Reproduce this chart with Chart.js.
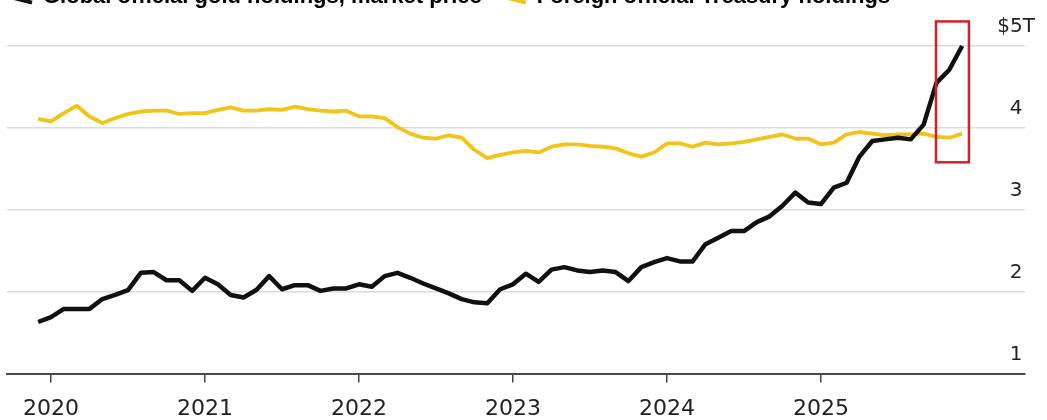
<!DOCTYPE html>
<html>
<head>
<meta charset="utf-8">
<script src="https://cdn.jsdelivr.net/npm/chart.js@4.4.1/dist/chart.umd.min.js"></script>
<style>
  html, body { margin: 0; padding: 0; background: #fff; overflow: hidden; }
  #wrap { position: relative; width: 1047px; height: 420px; overflow: hidden; }
  #box { position: absolute; left: 0; top: -23px; width: 1047px; height: 458px; }
</style>
</head>
<body>
<div id="wrap"><div id="box"><canvas id="chart"></canvas></div></div>
<script>
/* Réservas oficiais: ouro a preço de mercado x Treasuries em mãos estrangeiras (US$ tri) */
const START_MONTH = -1;            // dez/2019, contado a partir de jan/2020 = 0
const FIRST_YEAR = 2020;
const SERIES_NAMES = ["Global official gold holdings, market price", "Foreign official Treasury holdings"];
const YEAR_TICKS = [0, 12, 24, 36, 48, 60];
const Y_TICKS = [1, 2, 3, 4, 5];

const gold = [
  1.63, 1.69, 1.79, 1.79, 1.79, 1.91, 1.96, 2.02, 2.23, 2.24, 2.14, 2.14,
  2.01, 2.17, 2.09, 1.96, 1.93, 2.02, 2.19, 2.03, 2.08, 2.08, 2.01, 2.04,
  2.04, 2.09, 2.06, 2.19, 2.23, 2.17, 2.10, 2.04, 1.98, 1.91, 1.87, 1.86,
  2.03, 2.09, 2.22, 2.12, 2.27, 2.30, 2.26, 2.24, 2.26, 2.24, 2.13, 2.30,
  2.36, 2.41, 2.37, 2.37, 2.58, 2.66, 2.74, 2.74, 2.85, 2.92, 3.05, 3.21,
  3.09, 3.07, 3.27, 3.33, 3.65, 3.84, 3.86, 3.88, 3.86, 4.04, 4.55, 4.71,
  5.00
];
const treasury = [
  4.11, 4.08, 4.18, 4.27, 4.14, 4.06, 4.12, 4.17, 4.20, 4.21, 4.21, 4.17,
  4.18, 4.18, 4.22, 4.25, 4.21, 4.21, 4.23, 4.22, 4.26, 4.23, 4.21, 4.20,
  4.21, 4.14, 4.14, 4.12, 4.01, 3.93, 3.88, 3.87, 3.91, 3.88, 3.73, 3.63,
  3.67, 3.70, 3.72, 3.70, 3.77, 3.80, 3.80, 3.78, 3.77, 3.75, 3.69, 3.65,
  3.70, 3.81, 3.81, 3.77, 3.82, 3.80, 3.81, 3.83, 3.86, 3.89, 3.92, 3.87,
  3.87, 3.80, 3.82, 3.92, 3.95, 3.93, 3.91, 3.92, 3.92, 3.93, 3.89, 3.88,
  3.93
];
// destaque (retângulo vermelho) em unidades do gráfico: meses e US$ tri
const HIGHLIGHT = { x0: 68.96, x1: 71.53, y0: 3.58, y1: 5.30 };

const pts = arr => arr.map((v, i) => ({ x: START_MONTH + i, y: v }));

const highlightBox = {
  id: "highlightBox",
  afterDatasetsDraw(chart) {
    const { ctx, scales: { x, y } } = chart;
    const l = x.getPixelForValue(HIGHLIGHT.x0), r = x.getPixelForValue(HIGHLIGHT.x1);
    const t = y.getPixelForValue(HIGHLIGHT.y1), b = y.getPixelForValue(HIGHLIGHT.y0);
    ctx.save();
    ctx.strokeStyle = "#d3202e";
    ctx.lineWidth = 2.5;
    ctx.strokeRect(l, t, r - l, b - t);
    ctx.restore();
  }
};
// legenda cortada no topo, como no original
const legendFit = {
  id: "legendFit",
  beforeInit(chart) {
    const fit = chart.legend.fit;
    chart.legend.fit = function () { fit.call(this); this.height = 69; };
  },
  afterLayout(chart) { chart.legend.left -= 19; chart.legend.top += 9; }
};

new Chart(document.getElementById("chart"), {
  type: "line",
  data: {
    datasets: [
      { label: SERIES_NAMES[0], data: pts(gold), borderColor: "#111", borderWidth: 4.5,
        pointRadius: 0, tension: 0, borderJoinStyle: "round", clip: false, order: 1 },
      { label: SERIES_NAMES[1], data: pts(treasury), borderColor: "#f2c318", borderWidth: 3.8,
        pointRadius: 0, tension: 0, borderJoinStyle: "round", clip: false, order: 2 }
    ]
  },
  options: {
    responsive: true, maintainAspectRatio: false, animation: false,
    layout: { padding: { left: 7, right: 2, top: 0, bottom: 0 } },
    plugins: {
      tooltip: { enabled: false },
      legend: {
        position: "top", align: "start",
        labels: {
          usePointStyle: true, pointStyleWidth: 44, boxHeight: 8, padding: 0,
          color: "#222", font: { family: "Liberation Sans", size: 22, weight: "bold" },
          generateLabels: ch => ch.data.datasets.map((d, i) => ({
            text: d.label, strokeStyle: d.borderColor, fillStyle: d.borderColor,
            lineWidth: 4, pointStyle: "line", rotation: 100, datasetIndex: i
          }))
        }
      }
    },
    scales: {
      x: {
        type: "linear", min: -3.43, max: 75.9,
        afterBuildTicks: s => { s.ticks = YEAR_TICKS.map(v => ({ value: v })); },
        ticks: { callback: v => String(FIRST_YEAR + v / 12), color: "#222", padding: 13,
          maxRotation: 0, autoSkip: false, font: { family: "DejaVu Sans", size: 22 } },
        grid: { drawOnChartArea: false, drawTicks: true, tickLength: 9, color: "#444", lineWidth: 1.5 },
        border: { display: true, color: "#4a4a4a", width: 2 }
      },
      y: {
        position: "right", min: 1, max: 5,
        afterBuildTicks: s => { s.ticks = Y_TICKS.map(v => ({ value: v })); },
        ticks: { mirror: true, crossAlign: "center", padding: 10, labelOffset: -19,
          callback: v => v === 5 ? "$5T" : String(v), color: "#222",
          font: { family: "DejaVu Sans", size: 20 } },
        grid: { color: "#dcdcdc", lineWidth: 1.5, drawTicks: false },
        border: { display: false }
      }
    }
  },
  plugins: [highlightBox, legendFit]
});
</script>
</body>
</html>
